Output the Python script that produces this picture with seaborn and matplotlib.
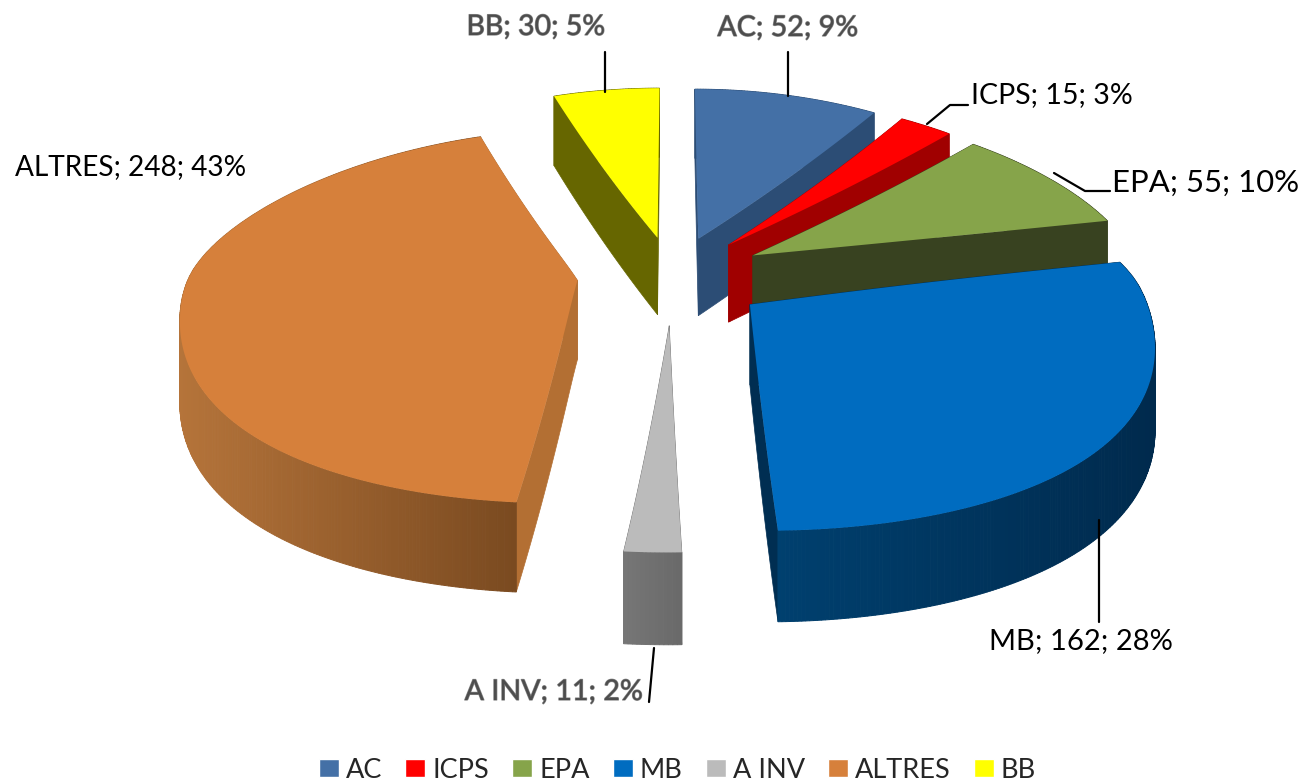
import numpy as np
import matplotlib
matplotlib.use("Agg")
import matplotlib.pyplot as plt
import matplotlib.patheffects as pe
import seaborn as sns
from matplotlib.path import Path
from matplotlib.transforms import Transform
from matplotlib.patches import Patch
from matplotlib.colors import to_rgb

categories = ["AC", "ICPS", "EPA", "MB", "A INV", "ALTRES", "BB"]
values = [52, 15, 55, 162, 11, 248, 30]
percents = [9, 3, 10, 28, 2, 43, 5]
top_colors = ["#4470A6", "#FF0000", "#86A44A", "#006CC0", "#BBBBBB", "#D6803B", "#FFFF00"]
cut_colors = ["#2C4D75", "#A00000", "#384220", "#002E52", "#707070", "#B36F33", "#666600"]
rim_light = ["#2C4D75", "#A00000", "#384220", "#00406F", "#767676", "#B5743A", "#666600"]
rim_dark = ["#2C4D75", "#A00000", "#384220", "#002A4D", "#6A6A6A", "#7A4A20", "#666600"]

CX, CY, SX, SY, KX = 672.5, 274.0, 402.0, 155.0, 0.165
FRONT_GAIN, KINK, SOFT = 80.0, 0.05, 0.05
DEPTH, KD = 79.0, 0.12
EXPLODE, RADIUS = 0.237, 0.965


def screen(u, v, depth=0.0):
    """Oblique view of the pie plane: nearer parts open up, as in the reference."""
    u, v = np.asarray(u, dtype=float), np.asarray(v, dtype=float)
    x = CX + u * SX / (1.0 + KX * v)
    y = CY - v * SY + FRONT_GAIN * SOFT * np.log1p(np.exp((-v - KINK) / SOFT))
    return x, y + depth * DEPTH / (1.0 + KD * v)


class Oblique(Transform):
    input_dims = output_dims = 2
    is_affine = False
    has_inverse = False

    def transform_non_affine(self, values):
        values = np.asarray(values, dtype=float)
        return np.column_stack(screen(values[:, 0], values[:, 1]))

    def transform_path_non_affine(self, path):
        pts = []
        for curve, code in path.iter_bezier():
            if code != Path.MOVETO:
                pts.append(curve(np.linspace(0, 1, 40)))
        pts = np.vstack(pts)
        return Path(self.transform_non_affine(pts), closed=False)


sns.set_theme(style="white")
plt.rcParams["font.family"] = ["Lato", "DejaVu Sans"]

fig = plt.figure(figsize=(13.06, 7.83), dpi=100, facecolor="white")
ax = fig.add_axes([0, 0, 1, 1])
wedges, _ = ax.pie(values, colors=top_colors, explode=[EXPLODE] * len(values),
                   startangle=90, counterclock=False, radius=RADIUS)
ax.set_aspect("auto")
ax.set_xlim(0, 1306)
ax.set_ylim(783, 0)
ax.axis("off")

oblique = Oblique()
order = {0: 2, 1: 3, 2: 4, 3: 7, 4: 6, 5: 5, 6: 1}
for i, w in enumerate(wedges):
    base = order[i] * 10
    cu, cv = w.center
    t1, t2 = np.radians(w.theta1), np.radians(w.theta2)
    for t in (t1, t2):
        eu, ev = cu + w.r * np.cos(t), cv + w.r * np.sin(t)
        ss = np.linspace(0, 1, 30)
        xa, ya = screen(cu + (eu - cu) * ss, cv + (ev - cv) * ss)
        xb, yb = screen(cu + (eu - cu) * ss, cv + (ev - cv) * ss, 1.0)
        ax.fill(np.r_[xa, xb[::-1]], np.r_[ya, yb[::-1]], color=cut_colors[i], lw=0.5, zorder=base + 2)
    ts = np.linspace(t1, t2, max(int(abs(t2 - t1) * 120), 6))
    us, vs = cu + w.r * np.cos(ts), cv + w.r * np.sin(ts)
    c0, c1 = np.array(to_rgb(rim_light[i])), np.array(to_rgb(rim_dark[i]))
    xa, ya = screen(us, vs)
    xb, yb = screen(us, vs, 1.0)
    span = max(xa.max() - xa.min(), 1.0)
    for j in range(len(ts) - 1):
        f = ((xa[j] + xa[j + 1]) / 2 - xa.min()) / span
        col = c0 + (c1 - c0) * f
        z = base + 3 if np.sin((ts[j] + ts[j + 1]) / 2) < 0 else base + 1
        ax.fill([xa[j], xa[j + 1], xb[j + 1], xb[j]], [ya[j], ya[j + 1], yb[j + 1], yb[j]],
                color=col, lw=0.7, zorder=z)
    w.set_transform(oblique + ax.transData)
    w.set_clip_on(False)
    w.set_zorder(base + 4)
    w.set_linewidth(0)

labels = [f"{c}; {v}; {p}%" for c, v, p in zip(categories, values, percents)]
label_style = [
    (788, 28, "center", "#4d4d4d", 20.6), (971, 95, "left", "black", 20.5),
    (1112, 183, "left", "black", 22.4), (1081, 641, "center", "black", 21),
    (554, 692, "center", "#4d4d4d", 20.6), (131, 167, "center", "black", 20.2),
    (536, 27, "center", "#4d4d4d", 20.5),
]
for lab, (x, y, ha, col, size) in zip(labels, label_style):
    t = ax.text(x, y, lab, ha=ha, va="center", fontsize=size, color=col, zorder=200)
    if col != "black":
        t.set_path_effects([pe.withStroke(linewidth=0.9, foreground="#8a8a8a")])

leaders = [
    ([788, 788], [52, 96]), ([605, 605], [52, 92]),
    ([968, 950, 927], [105, 105, 124]), ([1110, 1085, 1054], [191, 191, 173]),
    ([1099, 1099], [622, 520]), ([654, 649], [648, 702]),
]
for xs, ys in leaders:
    ax.plot(xs, ys, color="black", lw=1.6, zorder=150)

handles = [Patch(facecolor=c, label=n) for c, n in zip(top_colors, categories)]
ax.legend(handles=handles, loc="center", bbox_to_anchor=(677.5 / 1306, 1 - 770 / 783), ncol=7,
          frameon=False, fontsize=19.5, handlelength=0.74, handleheight=0.65,
          handletextpad=0.25, columnspacing=0.86, borderpad=0)

fig.savefig("out.png", dpi=100, facecolor="white")
